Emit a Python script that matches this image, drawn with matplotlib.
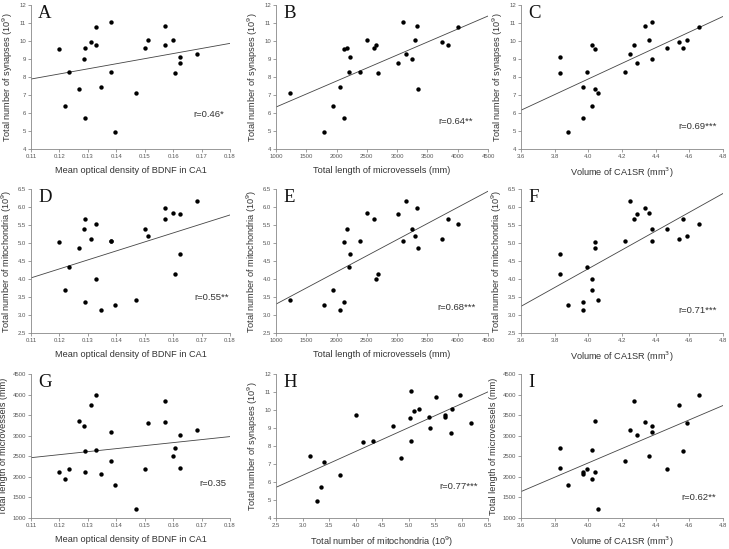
import numpy as np
import matplotlib
matplotlib.use("Agg")
import matplotlib.pyplot as plt

plt.rcParams['font.family'] = ['Liberation Sans', 'DejaVu Sans']

bdnf = [0.120, 0.122, 0.1235, 0.127, 0.1285, 0.129, 0.129, 0.131, 0.1328, 0.133,
        0.1345, 0.138, 0.138, 0.1397, 0.147, 0.150, 0.151, 0.157, 0.157, 0.160,
        0.1605, 0.1625, 0.1625, 0.1685]
length = [2120, 1940, 2200, 3350, 3240, 2620, 2120, 3740, 2650, 4000,
          2060, 3090, 2390, 1790, 1230, 2180, 3300, 3840, 3330, 2510,
          2690, 3010, 2220, 3150]
synapses = [9.55, 6.40, 8.30, 7.35, 9.00, 9.60, 5.70, 9.95, 9.75, 10.75,
            7.45, 11.05, 8.30, 4.95, 7.10, 9.60, 10.05, 9.75, 10.85, 10.05,
            8.20, 8.75, 9.10, 9.30]
mito = [5.03, 3.70, 4.33, 4.85, 5.40, 5.68, 3.35, 5.10, 4.00, 5.52,
        3.15, 5.05, 5.05, 3.27, 3.41, 5.38, 5.19, 5.68, 5.97, 5.82,
        4.15, 5.81, 4.70, 6.18]
volume = [4.04, 4.02, 3.99, 4.04, 4.38, 4.565, 3.97, 4.54, 4.02, 4.655,
          3.97, 4.38, 4.22, 3.88, 4.06, 4.47, 4.585, 4.27, 4.335, 4.36,
          3.83, 4.29, 3.83, 4.245]

r_labels = ["r=0.46*", "r=0.64**", "r=0.69***",
            "r=0.55**", "r=0.68***", "r=0.71***",
            "r=0.35", "r=0.77***", "r=0.62**"]
letters = ["A", "B", "C", "D", "E", "F", "G", "H", "I"]

lab_bdnf = "Mean optical density of BDNF in CA1"
lab_len_x = "Total length of microvessels (mm)"
lab_vol = "Volume of CA1SR (mm$^3$)"
lab_syn = "Total number of synapses (10$^9$)"
lab_mito = "Total number of mitochondria (10$^9$)"

ticks_bdnf = np.arange(0.11, 0.1801, 0.01)
ticks_len = np.arange(1000, 4501, 500)
ticks_vol = np.arange(3.6, 4.801, 0.2)
ticks_syn = np.arange(4, 12.1, 1)
ticks_mito = np.arange(2.5, 6.51, 0.5)

# x, y, xlabel, ylabel, xticks, yticks, x fmt, y fmt
panels = [
    (bdnf, synapses, lab_bdnf, lab_syn, ticks_bdnf, ticks_syn, "%.2f", "%d"),
    (length, synapses, lab_len_x, lab_syn, ticks_len, ticks_syn, "%d", "%d"),
    (volume, synapses, lab_vol, lab_syn, ticks_vol, ticks_syn, "%.1f", "%d"),
    (bdnf, mito, lab_bdnf, lab_mito, ticks_bdnf, ticks_mito, "%.2f", "%.1f"),
    (length, mito, lab_len_x, lab_mito, ticks_len, ticks_mito, "%d", "%.1f"),
    (volume, mito, lab_vol, lab_mito, ticks_vol, ticks_mito, "%.1f", "%.1f"),
    (bdnf, length, lab_bdnf, lab_len_x, ticks_bdnf, ticks_len, "%.2f", "%d"),
    (mito, synapses, lab_mito, lab_syn, ticks_mito, ticks_syn, "%.1f", "%d"),
    (volume, length, lab_vol, lab_len_x, ticks_vol, ticks_len, "%.1f", "%d"),
]

# placement in pixels
W, H = 729, 549
col_left = [31, 276, 521]
col_w = [199, 212, 202]
row_top = [5, 189, 374]
ax_h = 144
r_pos = [(0.97, 0.24), (0.93, 0.19), (0.97, 0.155),
         (0.995, 0.25), (0.94, 0.18), (0.97, 0.155),
         (0.98, 0.24), (0.95, 0.22), (0.967, 0.14)]

fig = plt.figure(figsize=(W / 100, H / 100), dpi=100)

for i, (x, y, xl, yl, xt, yt, xf, yf) in enumerate(panels):
    r, c = divmod(i, 3)
    ax = fig.add_axes([col_left[c] / W, 1 - (row_top[r] + ax_h) / H,
                       col_w[c] / W, ax_h / H])
    ax.scatter(x, y, s=10, color='black', zorder=3, linewidths=0)
    ax.set_xlim(xt[0], xt[-1])
    ax.set_ylim(yt[0], yt[-1])
    k, b = np.polyfit(x, y, 1)
    xx = np.array([xt[0], xt[-1]])
    ax.plot(xx, k * xx + b, color='#444444', lw=0.6, zorder=2)
    ax.set_xticks(xt)
    ax.set_yticks(yt)
    ax.set_xticklabels([xf % v for v in xt])
    ax.set_yticklabels([yf % v for v in yt])
    ax.tick_params(labelsize=4.3, colors='#777777', length=2, width=0.5,
                   labelcolor='#555555', pad=1.5)
    for s in ['top', 'right']:
        ax.spines[s].set_visible(False)
    for s in ['left', 'bottom']:
        ax.spines[s].set_color('#888888')
        ax.spines[s].set_linewidth(0.6)
    ax.set_xlabel(xl, fontsize=6.6, color='#333333', labelpad=5)
    ax.set_ylabel(yl, fontsize=6.6, color='#333333', labelpad=3)
    ax.text(r_pos[i][0], r_pos[i][1], r_labels[i], transform=ax.transAxes,
            ha='right', va='center', fontsize=6.8, color='#333333')
    ax.text(0.035, 1.0, letters[i], transform=ax.transAxes, ha='left', va='top',
            fontsize=13.5, family='Liberation Serif', color='#111111')

fig.savefig("out.png", dpi=100, facecolor='white')
